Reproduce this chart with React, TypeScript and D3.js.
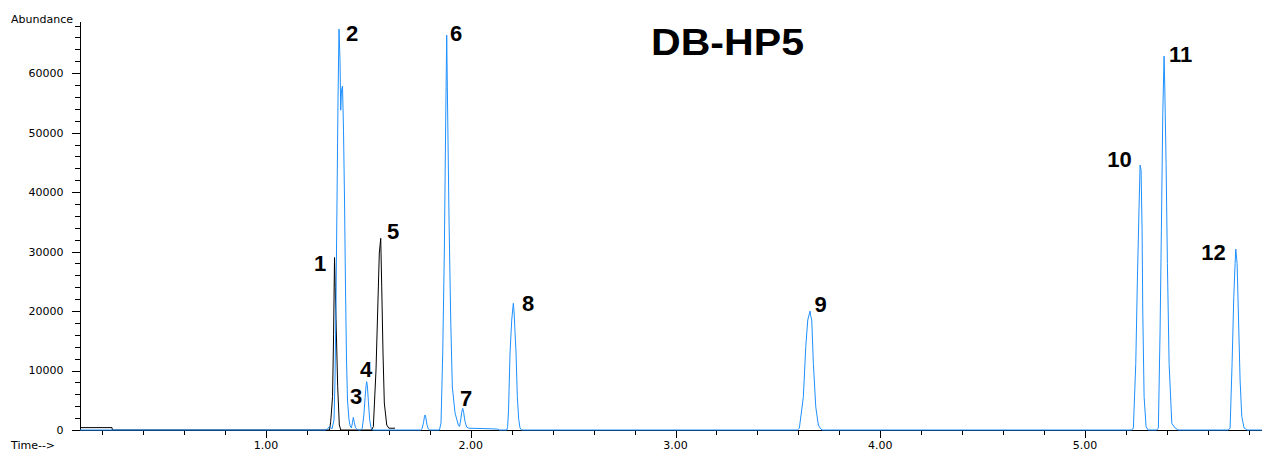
import React from "react";
import * as d3 from "d3";

// Blue trace (time in min, abundance)
const blueTrace: [number, number][] = [
  [0.0916, 0], [1.29, 0], [1.300, 150], [1.310, 600], [1.318, 300], [1.3223, 200],
  [1.3321, 1680], [1.3370, 8400], [1.3419, 21850], [1.3468, 38660], [1.3516, 55460],
  [1.3565, 67400], [1.3614, 62180], [1.3648, 53780], [1.3687, 57140], [1.3736, 57820],
  [1.3785, 50420], [1.3834, 38660], [1.3883, 23530], [1.3932, 11760], [1.3980, 5040],
  [1.4054, 1680], [1.4110, 700], [1.4170, 350], [1.4220, 1200], [1.4264, 2130],
  [1.4310, 1300], [1.4370, 400], [1.4450, 100], [1.4530, 0],
  [1.4620, 0], [1.4700, 300], [1.4780, 2500], [1.4840, 5500], [1.4890, 7600],
  [1.4918, 8120], [1.4950, 7400], [1.5000, 4800], [1.5060, 1800], [1.5130, 300], [1.5220, 0],
  [1.755, 0], [1.762, 200], [1.769, 1200], [1.774, 2300], [1.7766, 2520], [1.780, 2200],
  [1.786, 900], [1.793, 150], [1.800, 0],
  [1.847, 0], [1.8547, 1180], [1.8630, 12940], [1.8708, 29750], [1.8776, 52100],
  [1.8825, 66390], [1.8855, 57650], [1.8938, 35290], [1.9021, 18490], [1.9099, 7230],
  [1.9231, 2860], [1.9392, 840], [1.9450, 600], [1.9500, 1500], [1.9560, 3000],
  [1.9607, 3640], [1.9650, 3000], [1.9720, 1400], [1.9800, 500], [1.9900, 300],
  [2.0500, 250], [2.1000, 200], [2.1300, 150], [2.1400, 0],
  [2.1760, 0], [2.1800, 600], [2.1844, 3360], [2.1917, 12940], [2.2000, 18490],
  [2.2078, 21300], [2.2120, 19500], [2.2160, 16500], [2.2210, 12940], [2.2273, 5600],
  [2.2340, 1800], [2.2405, 340], [2.2480, 0],
  [3.5950, 0], [3.6046, 290], [3.6242, 5600], [3.6359, 14000], [3.6457, 18490],
  [3.6569, 20000], [3.6600, 19200], [3.6652, 18490], [3.6730, 11200], [3.6847, 3900],
  [3.6974, 840], [3.7057, 340], [3.7150, 0],
  [5.2280, 0], [5.2359, 340], [5.2476, 11200], [5.2554, 25200], [5.2637, 37530],
  [5.2686, 44540], [5.2735, 43700], [5.2784, 33600], [5.2818, 19660], [5.2882, 5600],
  [5.2979, 560], [5.3077, 0],
  [5.3500, 0], [5.3579, 340], [5.3663, 16800], [5.3726, 33600], [5.3795, 53220],
  [5.3858, 62860], [5.3892, 57700], [5.3956, 44820], [5.4020, 28010], [5.4103, 11200],
  [5.4235, 1120], [5.4396, 340], [5.4542, 0],
  [5.7000, 0], [5.7082, 340], [5.7179, 11200], [5.7262, 22400], [5.7326, 28010],
  [5.7360, 30420], [5.7424, 28010], [5.7507, 16800], [5.7570, 8400], [5.7653, 2240],
  [5.7766, 340], [5.7912, 0], [5.864, 0],
];

// Black trace (time in min, abundance)
const blackTrace: [number, number][] = [
  [0.0916, 400], [0.2479, 400], [0.2500, 0], [1.3100, 0], [1.3160, 1400],
  [1.3250, 5600], [1.3300, 16000], [1.3346, 29000], [1.3380, 24000], [1.3420, 18600],
  [1.3500, 7280], [1.3580, 840], [1.3650, 0],
  [1.5150, 0], [1.5242, 560], [1.5372, 10080], [1.5455, 20170], [1.5533, 29750],
  [1.5602, 32220], [1.5651, 24080], [1.5714, 12940], [1.5778, 4540], [1.5895, 840],
  [1.6000, 300], [1.6300, 300],
];

// Peak labels: [text, time, abundance] of each label's anchor
const peakLabels: [string, number, number][] = [
  ["1", 1.2637, 26720], ["2", 1.4200, 65380], ["3", 1.4396, 4370],
  ["4", 1.4884, 8910], ["5", 1.6203, 32100], ["6", 1.9280, 65380],
  ["7", 1.9768, 4030], ["8", 2.2796, 20000], ["9", 3.7082, 19830],
  ["10", 5.1685, 44250], ["11", 5.4664, 61850], ["12", 5.6276, 28570],
];

const yMajorTicks = [0, 10000, 20000, 30000, 40000, 50000, 60000];
const xMajorTicks = [1, 2, 3, 4, 5];
const xLabels = ["1.00", "2.00", "3.00", "4.00", "5.00"];
const title = "DB-HP5";

const W = 1262, H = 452;

export default function App() {
  const x = d3.scaleLinear().domain([0.0916, 5.864]).range([80, 1262]);
  const y = d3.scaleLinear().domain([0, 68600]).range([430, 22]);
  const line = d3
    .line<[number, number]>()
    .x((d) => x(d[0]))
    .y((d) => y(d[1]));

  const yMinor = d3.range(0, 68001, 2000);
  const xMinor = d3.range(1, 30).map((i) => i * 0.2);
  const font = "'DejaVu Sans', sans-serif";
  const boldFont = "'Liberation Sans', Arial, sans-serif";

  return (
    <svg
      width={W}
      height={H}
      style={{ position: "absolute", left: 0, top: 0, background: "#fff" }}
    >
      <rect x={0} y={0} width={W} height={H} fill="#fff" />
      {/* axes */}
      <line x1={80.5} x2={80.5} y1={22} y2={431} stroke="#000" strokeWidth={1} />
      <line x1={80} x2={1262} y1={430.5} y2={430.5} stroke="#000" strokeWidth={1} />
      {yMinor.map((v) => (
        <line key={"ym" + v} x1={75} x2={80} y1={Math.round(y(v)) + 0.5} y2={Math.round(y(v)) + 0.5} stroke="#000" />
      ))}
      {yMajorTicks.map((v) => (
        <g key={"yM" + v}>
          <line x1={72} x2={80} y1={Math.round(y(v)) + 0.5} y2={Math.round(y(v)) + 0.5} stroke="#000" />
          <text x={63.5} y={y(v)} dy="0.36em" textAnchor="end" fontFamily={font} fontSize={11} fill="#000">
            {v}
          </text>
        </g>
      ))}
      {xMinor.map((t) => (
        <line key={"xm" + t} x1={Math.round(x(t)) + 0.5} x2={Math.round(x(t)) + 0.5} y1={430} y2={435} stroke="#000" />
      ))}
      {xMajorTicks.map((t, i) => (
        <g key={"xM" + t}>
          <line x1={Math.round(x(t)) + 0.5} x2={Math.round(x(t)) + 0.5} y1={430} y2={438} stroke="#000" />
          <text x={x(t)} y={449} textAnchor="middle" fontFamily={font} fontSize={11} fill="#000">
            {xLabels[i]}
          </text>
        </g>
      ))}
      <text x={11} y={23} fontFamily={font} fontSize={11} fill="#000">Abundance</text>
      <text x={11} y={449} fontFamily={font} fontSize={11} fill="#000">Time--&gt;</text>

      {/* traces */}
      <path d={line(blackTrace) || ""} fill="none" stroke="#000" strokeWidth={1} />
      <path d={line(blueTrace) || ""} fill="none" stroke="#1e90ff" strokeWidth={1} />

      {/* labels */}
      {peakLabels.map(([s, t, v]) => (
        <text key={"pl" + s} x={x(t)} y={y(v)} textAnchor="middle" fontFamily={boldFont} fontWeight="bold" fontSize={22} fill="#000">
          {s}
        </text>
      ))}
      <text x={727.5} y={55} textAnchor="middle" fontFamily={boldFont} fontWeight="bold" fontSize={36} textLength={153} lengthAdjust="spacingAndGlyphs" fill="#000">
        {title}
      </text>
    </svg>
  );
}
